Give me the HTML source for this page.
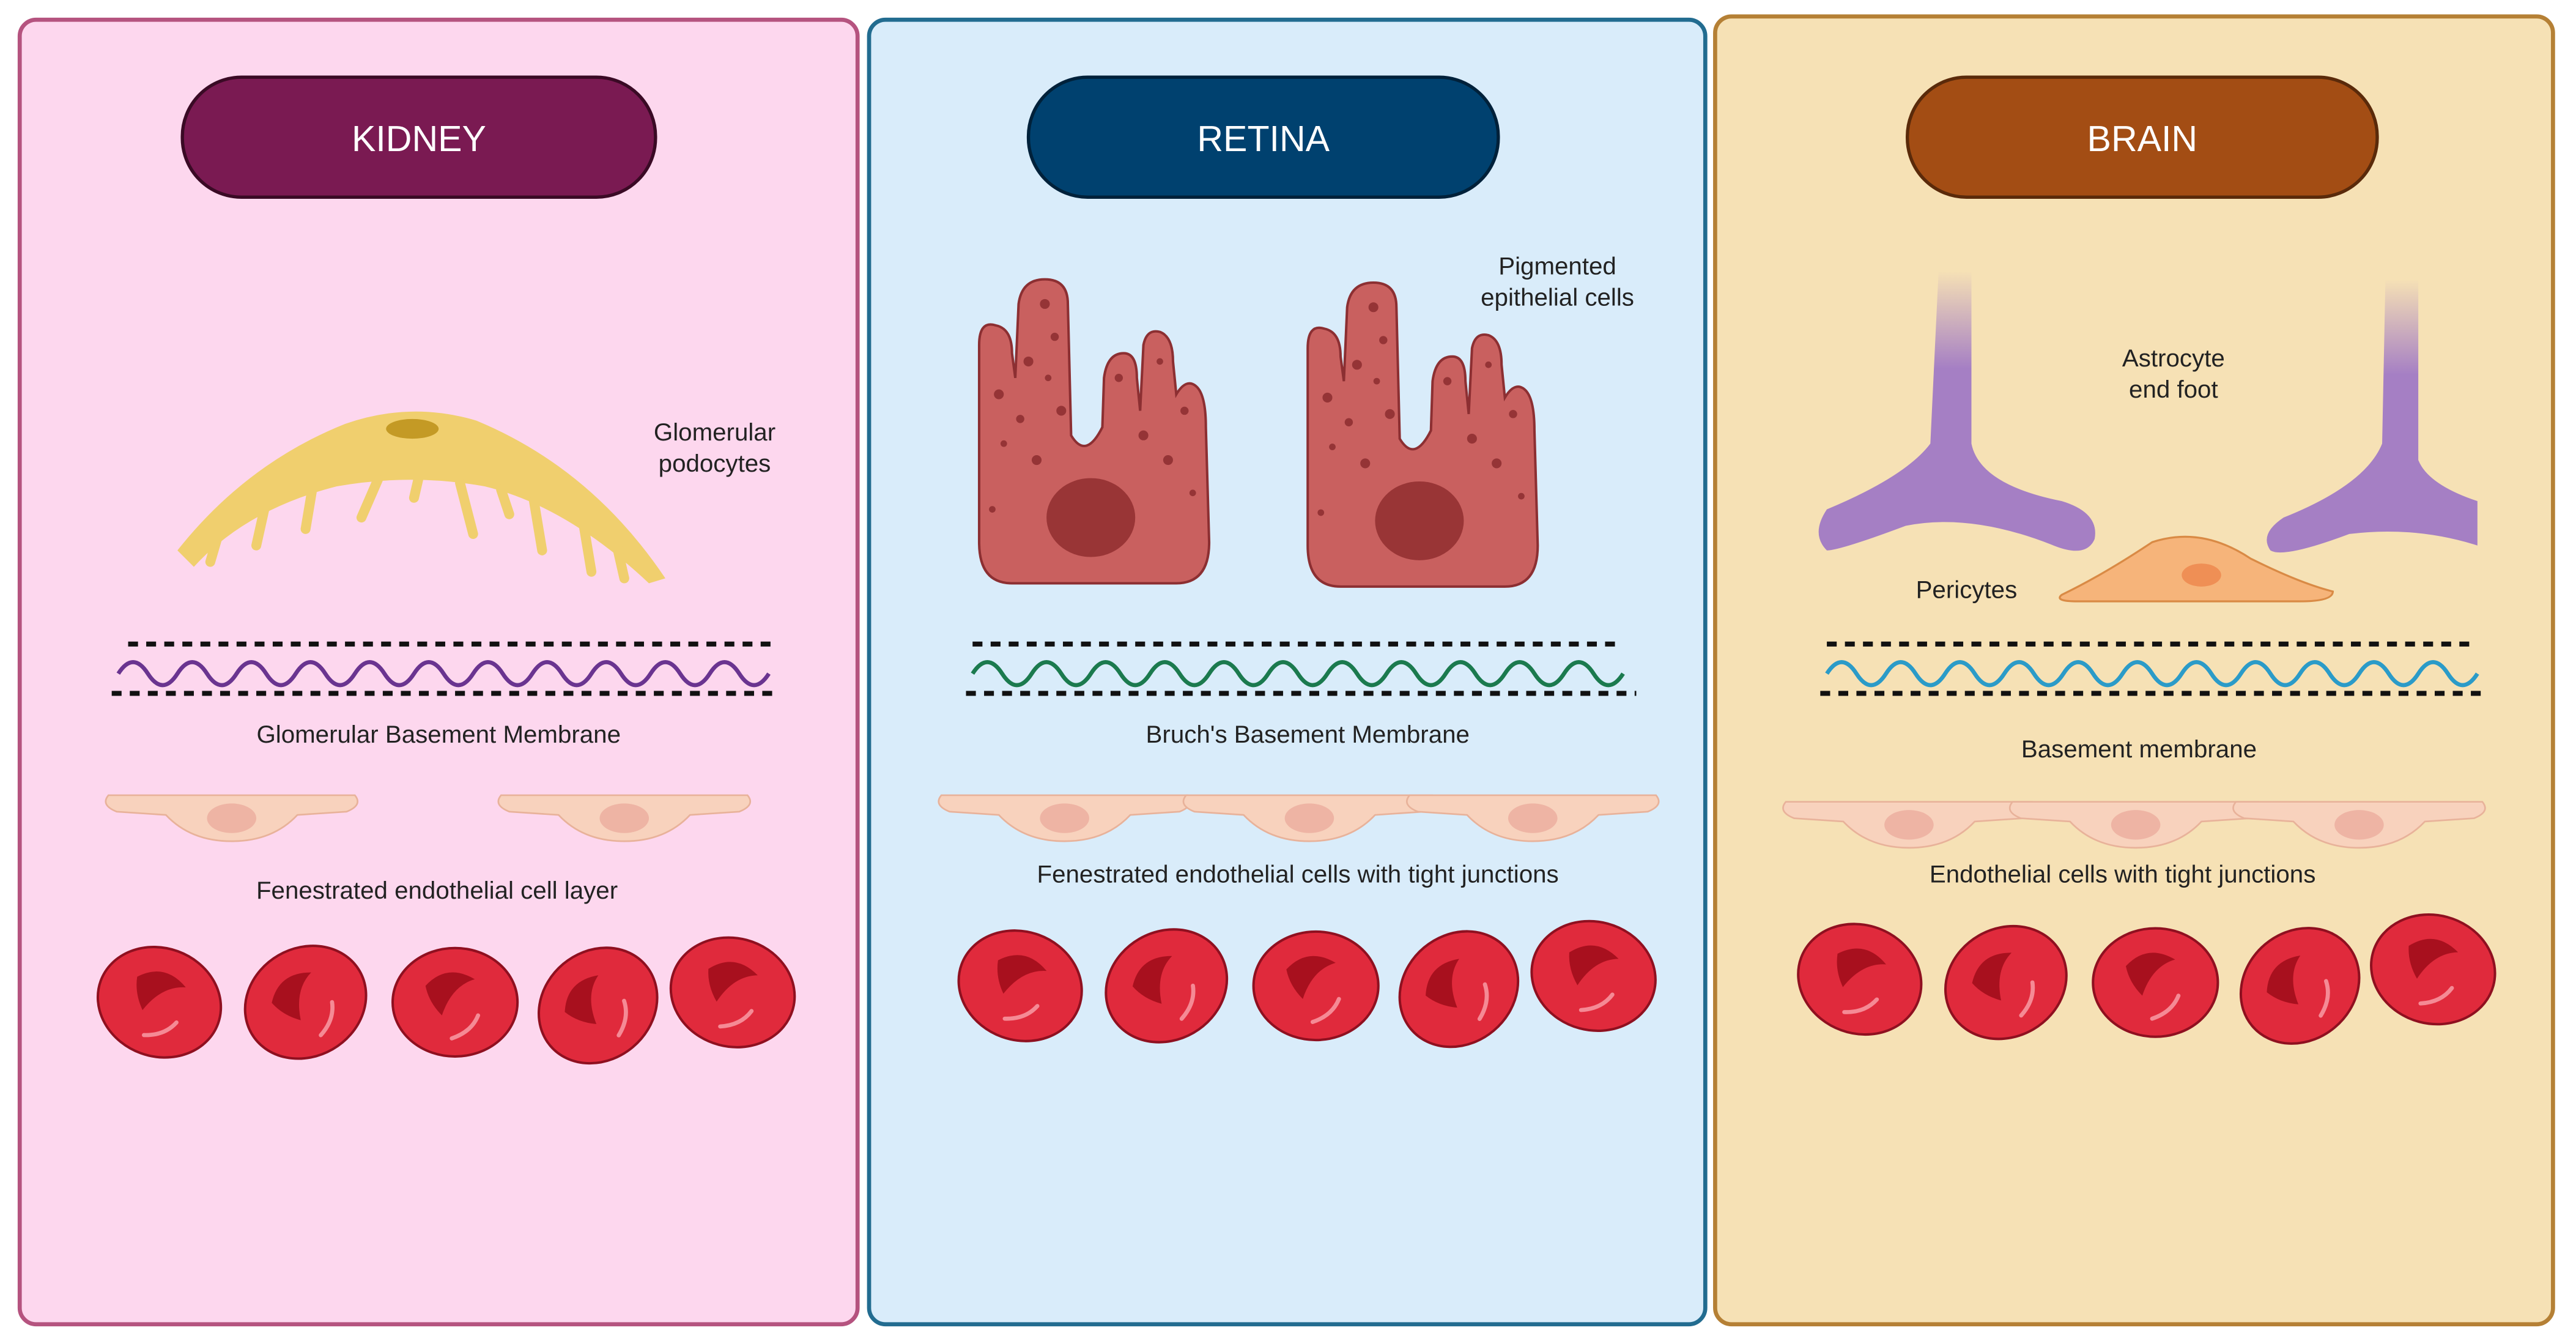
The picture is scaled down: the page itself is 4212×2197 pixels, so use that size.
<!DOCTYPE html>
<html><head><meta charset="utf-8"><style>
html,body{margin:0;padding:0;background:#fff}
svg{display:block}
text{font-family:"Liberation Sans",sans-serif}
</style></head><body>
<svg width="4212" height="2197" viewBox="0 0 1568 818" preserveAspectRatio="none" xmlns="http://www.w3.org/2000/svg">
<defs>
<g id="rbc">
<ellipse cx="0" cy="0" rx="38" ry="33" fill="#e02a3c" stroke="#8f1020" stroke-width="1.5"/>
<path d="M-18,-10 Q-5,-24 12,-14 Q-2,-10 -8,8 Q-16,0 -18,-10Z" fill="#a8101e"/>
<path d="M14,8 Q10,18 -2,22" stroke="#f58a95" stroke-width="2.5" fill="none" stroke-linecap="round"/>
</g>
<g id="endo">
<path d="M-75,-6 L75,-6 Q80,0 70,4 L40,6 Q25,22 0,22 Q-25,22 -40,6 L-70,4 Q-80,0 -75,-6Z" fill="#f8d2bd" stroke="#e8b29a" stroke-width="1"/>
<ellipse cx="0" cy="8" rx="15" ry="9" fill="#eeb4a4"/>
</g>
<g id="epi">
<path d="M-70,160 L-70,40 Q-70,25 -60,28 Q-50,30 -50,45 L-48,60 L-46,15 Q-44,0 -30,0 Q-16,0 -16,15 L-14,95 Q-5,110 5,90 L6,60 Q8,45 18,45 Q26,45 26,60 L28,80 L30,40 Q32,30 40,32 Q48,35 48,50 L50,70 Q56,60 62,65 Q68,70 68,90 L70,160 Q70,185 50,185 L-50,185 Q-70,185 -70,160Z" fill="#c9605f" stroke="#8c2f32" stroke-width="1.5"/>
<ellipse cx="-2" cy="145" rx="27" ry="24" fill="#993536"/>
<g fill="#953436"><circle cx="-30" cy="15" r="3"/><circle cx="-24" cy="35" r="2.5"/><circle cx="-40" cy="50" r="3"/><circle cx="-28" cy="60" r="2"/><circle cx="-58" cy="70" r="3"/><circle cx="-45" cy="85" r="2.5"/><circle cx="-20" cy="80" r="3"/><circle cx="-55" cy="100" r="2"/><circle cx="-35" cy="110" r="3"/><circle cx="15" cy="60" r="2.5"/><circle cx="40" cy="50" r="2"/><circle cx="30" cy="95" r="3"/><circle cx="55" cy="80" r="2.5"/><circle cx="45" cy="110" r="3"/><circle cx="60" cy="130" r="2"/><circle cx="-62" cy="140" r="2"/></g>
</g>
</defs>
<rect x="12" y="12" width="510" height="794" rx="10" fill="#fdd7ee" stroke="#b5537f" stroke-width="2.5"/>
<rect x="529" y="12" width="509" height="794" rx="10" fill="#d9ecfa" stroke="#226c90" stroke-width="2.5"/>
<rect x="1044" y="10" width="510" height="796" rx="10" fill="#f6e1b5" stroke="#b58035" stroke-width="2.5"/>
<rect x="111" y="47" width="288" height="73" rx="36" fill="#7a1a52" stroke="#3a0a25" stroke-width="2"/>
<text x="255" y="92" font-size="22" fill="#fff" text-anchor="middle">KIDNEY</text>
<rect x="626" y="47" width="286" height="73" rx="36" fill="#00416f" stroke="#00213a" stroke-width="2"/>
<text x="769" y="92" font-size="22" fill="#fff" text-anchor="middle">RETINA</text>
<rect x="1161" y="47" width="286" height="73" rx="36" fill="#a34d14" stroke="#5a2a0a" stroke-width="2"/>
<text x="1304" y="92" font-size="22" fill="#fff" text-anchor="middle">BRAIN</text>
<!-- kidney podocyte -->
<path d="M108,335 Q150,282 210,258 Q250,244 290,256 Q360,285 405,352 L395,355 Q345,308 295,296 Q250,288 205,296 Q150,310 118,345 Z" fill="#f0cf6e"/>
<g stroke="#f0cf6e" stroke-width="6" stroke-linecap="round">
<line x1="135" y1="318" x2="128" y2="342"/><line x1="162" y1="305" x2="156" y2="332"/>
<line x1="190" y1="298" x2="186" y2="322"/><line x1="230" y1="292" x2="220" y2="315"/>
<line x1="255" y1="290" x2="252" y2="303"/><line x1="280" y1="294" x2="288" y2="325"/>
<line x1="305" y1="298" x2="310" y2="313"/><line x1="325" y1="305" x2="330" y2="335"/>
<line x1="355" y1="318" x2="360" y2="348"/><line x1="375" y1="330" x2="380" y2="352"/>
</g>
<ellipse cx="251" cy="261" rx="16" ry="6" fill="#c49a25"/>
<text x="435" y="268" font-size="15" fill="#222" text-anchor="middle">Glomerular</text>
<text x="435" y="287" font-size="15" fill="#222" text-anchor="middle">podocytes</text>
<g stroke="#111" stroke-width="3" stroke-dasharray="6,5">
<line x1="78" y1="392" x2="470" y2="392"/><line x1="68" y1="422" x2="472" y2="422"/>
<line x1="592" y1="392" x2="988" y2="392"/><line x1="588" y1="422" x2="996" y2="422"/>
<line x1="1112" y1="392" x2="1506" y2="392"/><line x1="1108" y1="422" x2="1514" y2="422"/>
</g>
<path d="M72,410 q9,-14 18,0 t18,0 t18,0 t18,0 t18,0 t18,0 t18,0 t18,0 t18,0 t18,0 t18,0 t18,0 t18,0 t18,0 t18,0 t18,0 t18,0 t18,0 t18,0 t18,0 t18,0 t18,0" fill="none" stroke="#6a3490" stroke-width="2.5"/>
<path d="M592,410 q9,-14 18,0 t18,0 t18,0 t18,0 t18,0 t18,0 t18,0 t18,0 t18,0 t18,0 t18,0 t18,0 t18,0 t18,0 t18,0 t18,0 t18,0 t18,0 t18,0 t18,0 t18,0 t18,0" fill="none" stroke="#1b7a4e" stroke-width="2.5"/>
<path d="M1112,410 q9,-14 18,0 t18,0 t18,0 t18,0 t18,0 t18,0 t18,0 t18,0 t18,0 t18,0 t18,0 t18,0 t18,0 t18,0 t18,0 t18,0 t18,0 t18,0 t18,0 t18,0 t18,0 t18,0" fill="none" stroke="#2b9bc8" stroke-width="2.5"/>
<text x="267" y="452" font-size="15" fill="#222" text-anchor="middle">Glomerular Basement Membrane</text>
<text x="796" y="452" font-size="15" fill="#222" text-anchor="middle">Bruch's Basement Membrane</text>
<text x="1302" y="461" font-size="15" fill="#222" text-anchor="middle">Basement membrane</text>
<use href="#endo" x="141" y="490"/><use href="#endo" x="380" y="490"/>
<use href="#endo" x="648" y="490"/><use href="#endo" x="797" y="490"/><use href="#endo" x="933" y="490"/>
<use href="#endo" x="1162" y="494"/><use href="#endo" x="1300" y="494"/><use href="#endo" x="1436" y="494"/>
<text x="266" y="547" font-size="15" fill="#222" text-anchor="middle">Fenestrated endothelial cell layer</text>
<text x="790" y="537" font-size="15" fill="#222" text-anchor="middle">Fenestrated endothelial cells with tight junctions</text>
<text x="1292" y="537" font-size="15" fill="#222" text-anchor="middle">Endothelial cells with tight junctions</text>
<use href="#rbc" transform="translate(97,610) rotate(20)"/><use href="#rbc" transform="translate(186,610) rotate(-30)"/><use href="#rbc" transform="translate(277,610)"/><use href="#rbc" transform="translate(364,612) rotate(-40)"/><use href="#rbc" transform="translate(446,604) rotate(15)"/>
<use href="#rbc" transform="translate(621,600) rotate(20)"/><use href="#rbc" transform="translate(710,600) rotate(-30)"/><use href="#rbc" transform="translate(801,600)"/><use href="#rbc" transform="translate(888,602) rotate(-40)"/><use href="#rbc" transform="translate(970,594) rotate(15)"/>
<use href="#rbc" transform="translate(1132,596) rotate(20)"/><use href="#rbc" transform="translate(1221,598) rotate(-30)"/><use href="#rbc" transform="translate(1312,598)"/><use href="#rbc" transform="translate(1400,600) rotate(-40)"/><use href="#rbc" transform="translate(1481,590) rotate(15)"/>
<use href="#epi" x="666" y="170"/><use href="#epi" x="866" y="172"/>
<text x="948" y="167" font-size="15" fill="#222" text-anchor="middle">Pigmented</text>
<text x="948" y="186" font-size="15" fill="#222" text-anchor="middle">epithelial cells</text>
<defs><linearGradient id="fade" x1="0" y1="0" x2="0" y2="1"><stop offset="0" stop-color="#a57fc4" stop-opacity="0"/><stop offset="0.35" stop-color="#a57fc4"/></linearGradient></defs>
<path d="M1180,165 L1200,165 L1200,270 Q1205,295 1255,305 Q1278,312 1275,328 Q1270,340 1250,332 Q1200,312 1160,320 Q1120,335 1112,335 Q1102,325 1112,310 Q1160,290 1175,270 Z" fill="url(#fade)"/>
<path d="M1452,170 L1472,170 L1472,280 Q1478,295 1508,305 L1508,332 Q1470,320 1430,325 Q1390,340 1382,335 Q1375,325 1390,315 Q1440,295 1450,270 Z" fill="url(#fade)"/>
<text x="1323" y="223" font-size="15" fill="#222" text-anchor="middle">Astrocyte</text>
<text x="1323" y="242" font-size="15" fill="#222" text-anchor="middle">end foot</text>
<path d="M1255,362 Q1280,350 1310,330 Q1340,320 1370,340 Q1400,355 1420,360 Q1420,366 1400,366 L1265,366 Q1250,366 1255,362Z" fill="#f6b47a" stroke="#d98a45" stroke-width="1.2"/>
<ellipse cx="1340" cy="350" rx="12" ry="7" fill="#ef8f55"/>
<text x="1197" y="364" font-size="15" fill="#222" text-anchor="middle">Pericytes</text>
</svg>
</body></html>
